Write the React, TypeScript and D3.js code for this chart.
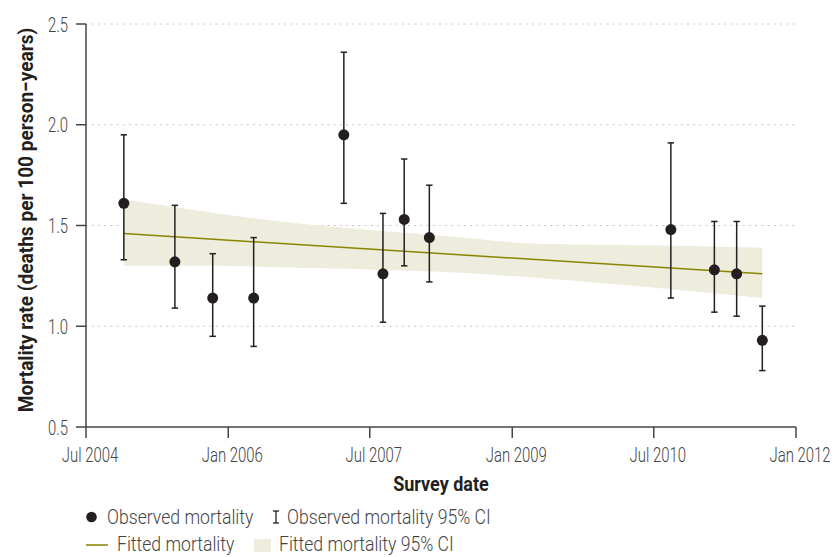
import React from 'react';
import * as d3 from 'd3';

// observed surveys
const surveyDates = ['2004-11-24', '2005-06-09', '2005-11-02', '2006-04-09', '2007-03-23', '2007-08-21', '2007-11-11', '2008-02-16', '2010-09-05', '2011-02-20', '2011-05-17', '2011-08-24'];
const observed = [1.61, 1.32, 1.14, 1.14, 1.95, 1.26, 1.53, 1.44, 1.48, 1.28, 1.26, 0.93];
const ciLow = [1.33, 1.09, 0.95, 0.9, 1.61, 1.02, 1.3, 1.22, 1.14, 1.07, 1.05, 0.78];
const ciHigh = [1.95, 1.6, 1.36, 1.44, 2.36, 1.56, 1.83, 1.7, 1.91, 1.52, 1.52, 1.1];

// fitted trend and its band
const fitDates = ['2004-11-24', '2011-08-24'];
const fitted = [1.46, 1.26];
const bandDates = ['2004-11-24', '2005-06-09', '2005-11-18', '2006-10-04', '2008-03-27', '2009-04-15', '2010-10-08', '2011-08-24'];
const bandHigh = [1.63, 1.59, 1.56, 1.51, 1.45, 1.41, 1.4, 1.39];
const bandLow = [1.3, 1.3, 1.3, 1.29, 1.27, 1.24, 1.18, 1.14];

const xTickDates = ['2004-07-01', '2006-01-01', '2007-07-01', '2009-01-01', '2010-07-01', '2012-01-01'];
const yTicks = [0.5, 1.0, 1.5, 2.0, 2.5];

const parse = d3.timeParse('%Y-%m-%d');
const fmt = d3.timeFormat('%b %Y');

const FONT = "Roboto, 'Noto Sans', sans-serif";
const TICK_COLOR = '#444';
const INK = '#231f20';
const OLIVE = '#8a8400';
const BAND = '#eeecdd';

// no condensed face installed, so squeeze the text horizontally
const CText: React.FC<any> = ({ x, y, sx, rotate, children, ...rest }) => (
  <g transform={`translate(${x},${y})${rotate ? ` rotate(${rotate})` : ''} scale(${sx},1)`}>
    <text {...rest}>{children}</text>
  </g>
);

const App: React.FC = () => {
  const width = 834;
  const height = 557;
  const left = 86, right = 796, top = 24, bottom = 427;

  const x = d3.scaleTime()
    .domain([parse(xTickDates[0])!, parse(xTickDates[xTickDates.length - 1])!])
    .range([left, right]);
  const y = d3.scaleLinear().domain([0.5, 2.5]).range([bottom, top]);

  const points = surveyDates.map((d, i) => ({
    date: parse(d)!, value: observed[i], lo: ciLow[i], hi: ciHigh[i],
  }));
  const band = bandDates.map((d, i) => ({ date: parse(d)!, lo: bandLow[i], hi: bandHigh[i] }));
  const fit = fitDates.map((d, i) => ({ date: parse(d)!, value: fitted[i] }));

  const area = d3.area<{ date: Date; lo: number; hi: number }>()
    .x(d => x(d.date))
    .y0(d => y(d.lo))
    .y1(d => y(d.hi))
    .curve(d3.curveMonotoneX);
  const line = d3.line<{ date: Date; value: number }>()
    .x(d => x(d.date))
    .y(d => y(d.value));

  const cap = 3.2;

  return (
    <svg width={width} height={height} style={{ position: 'absolute', left: 0, top: 0, fontFamily: FONT }}>
      {/* gridlines */}
      {yTicks.filter(t => t > 0.5).map(t => (
        <line key={t} x1={left} x2={right} y1={y(t)} y2={y(t)}
          stroke="#c8c8c8" strokeWidth={1.2} strokeDasharray="1.2 5" strokeLinecap="round" />
      ))}

      {/* fitted band and line */}
      <path d={area(band) || ''} fill={BAND} />
      <path d={line(fit) || ''} fill="none" stroke={OLIVE} strokeWidth={1.5} />

      {/* axes */}
      <line x1={left} x2={left} y1={top} y2={bottom} stroke={TICK_COLOR} strokeWidth={1.5} />
      <line x1={left} x2={right} y1={bottom} y2={bottom} stroke={TICK_COLOR} strokeWidth={1.5} />
      {yTicks.map(t => (
        <g key={t}>
          <line x1={left - 10} x2={left} y1={y(t)} y2={y(t)} stroke={TICK_COLOR} strokeWidth={1.5} />
          <CText x={68} y={y(t)} sx={0.71} dy="0.36em" textAnchor="end" fontSize={21} fontWeight={300} fill={TICK_COLOR}>
            {t.toFixed(1)}
          </CText>
        </g>
      ))}
      {xTickDates.map(s => {
        const d = parse(s)!;
        return (
          <g key={s}>
            <line x1={x(d)} x2={x(d)} y1={bottom} y2={bottom + 11} stroke={TICK_COLOR} strokeWidth={1.5} />
            <CText x={x(d) + 4} y={462} sx={0.71} textAnchor="middle" fontSize={21} fontWeight={300} fill={TICK_COLOR}>
              {fmt(d)}
            </CText>
          </g>
        );
      })}

      {/* axis titles */}
      <CText x={441} y={491} sx={0.9} textAnchor="middle" fontSize={20} fontWeight="bold" fill={INK}>
        Survey date
      </CText>
      <CText x={33} y={220} rotate={-90} sx={0.91} textAnchor="middle" fontSize={21} fontWeight="bold" fill={INK}>
        Mortality rate (deaths per 100 person−years)
      </CText>

      {/* observed points with CI */}
      {points.map((p, i) => (
        <g key={i}>
          <line x1={x(p.date)} x2={x(p.date)} y1={y(p.lo)} y2={y(p.hi)} stroke={INK} strokeWidth={1.5} />
          <line x1={x(p.date) - cap} x2={x(p.date) + cap} y1={y(p.lo)} y2={y(p.lo)} stroke={INK} strokeWidth={1.5} />
          <line x1={x(p.date) - cap} x2={x(p.date) + cap} y1={y(p.hi)} y2={y(p.hi)} stroke={INK} strokeWidth={1.5} />
          <circle cx={x(p.date)} cy={y(p.value)} r={5.5} fill={INK} />
        </g>
      ))}

      {/* legend */}
      <g fill={TICK_COLOR}>
        <circle cx={91.5} cy={517} r={5.3} fill={INK} />
        <CText x={107} y={524} sx={0.84} fontSize={21} fontWeight={300}>Observed mortality</CText>
        <line x1={276} x2={276} y1={511} y2={523} stroke={INK} strokeWidth={1.3} />
        <line x1={273} x2={279} y1={511} y2={511} stroke={INK} strokeWidth={1.3} />
        <line x1={273} x2={279} y1={523} y2={523} stroke={INK} strokeWidth={1.3} />
        <CText x={287} y={524} sx={0.84} fontSize={21} fontWeight={300}>Observed mortality 95% CI</CText>

        <line x1={86} x2={108} y1={545} y2={545} stroke={OLIVE} strokeWidth={1.5} />
        <CText x={117} y={551} sx={0.84} fontSize={21} fontWeight={300}>Fitted mortality</CText>
        <rect x={254} y={539} width={17} height={13} fill={BAND} />
        <CText x={279} y={551} sx={0.84} fontSize={21} fontWeight={300}>Fitted mortality 95% CI</CText>
      </g>
    </svg>
  );
};

export default App;
